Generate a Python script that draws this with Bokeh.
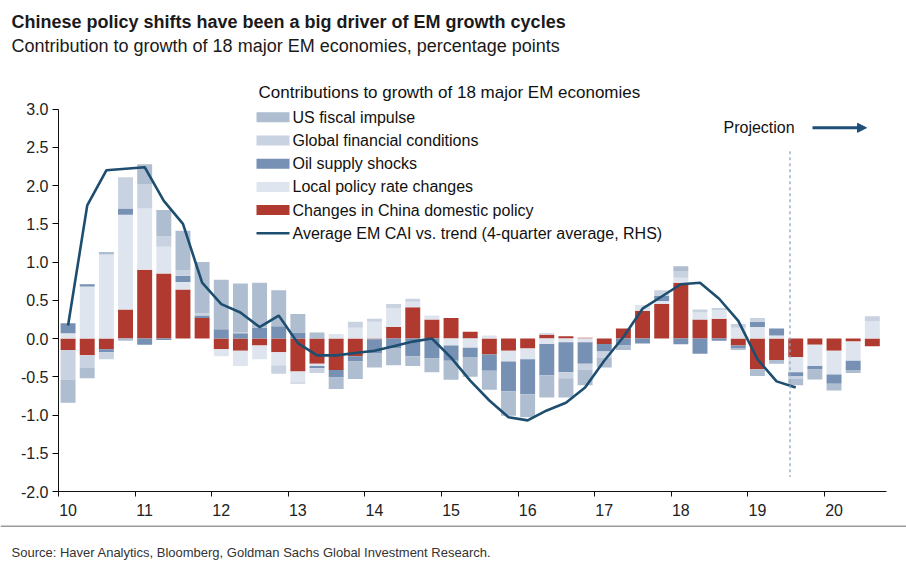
import numpy as np
from bokeh.plotting import figure
from bokeh.layouts import column
from bokeh.models import (Range1d, FixedTicker, NumeralTickFormatter, CustomJSTickFormatter,
                          Label, BoxAnnotation, Arrow, NormalHead)
from bokeh.embed import file_html
from bokeh.resources import INLINE

# ---------------- data ----------------
quarters = [f"{y}Q{q}" for y in range(2010, 2021) for q in range(1, 5)][:43]

china = [-0.15, -0.22, -0.14, 0.38, 0.90, 0.85, 0.64, 0.27, -0.14, -0.16, -0.09, -0.18,
         -0.43, -0.33, -0.41, -0.23, -0.01, 0.15, 0.41, 0.25, 0.27, 0.09, -0.21, -0.16,
         -0.13, 0.05, 0.03, 0.01, -0.07, 0.13, 0.36, 0.45, 0.73, 0.25, 0.26, -0.09,
         -0.40, -0.28, -0.24, -0.08, -0.16, -0.04, -0.10]
local = [0.07, 0.68, 1.10, 1.24, 0.80, 0.35, 0.10, 0.00, -0.09, -0.20, -0.18, -0.17,
         -0.14, -0.03, 0.06, 0.14, 0.22, 0.25, 0.07, 0.05, -0.09, -0.12, 0.04, -0.14,
         -0.14, -0.07, -0.05, -0.05, 0.00, 0.00, 0.08, 0.04, 0.065, 0.09, 0.11, 0.14,
         0.15, 0.04, -0.20, -0.28, -0.31, -0.25, 0.23]
oil = [0.13, 0.03, -0.04, 0.08, -0.08, -0.02, 0.08, 0.03, 0.12, 0.07, 0.14, 0.16,
       0.08, -0.03, -0.10, -0.07, -0.18, -0.13, -0.23, -0.26, -0.20, -0.12, -0.21, -0.39,
       -0.46, -0.41, -0.39, -0.28, -0.10, -0.09, -0.065, 0.065, -0.075, -0.20, -0.03, -0.04,
       0.07, 0.09, -0.05, -0.045, -0.12, -0.12, 0.00]
global_fin = [-0.39, -0.16, -0.09, 0.41, 0.32, 0.14, 0.07, 0.03, 0.00, 0.01, 0.00, -0.11,
              -0.02, -0.06, 0.00, 0.08, 0.04, 0.05, 0.04, 0.00, 0.00, 0.00, 0.00, 0.00,
              0.00, 0.02, -0.08, -0.08, -0.08, 0.00, 0.00, 0.075, 0.08, 0.04, 0.03, 0.05,
              0.05, 0.00, -0.04, 0.00, 0.00, 0.00, 0.06]
us_fiscal = [-0.30, -0.14, 0.03, -0.03, 0.26, 0.34, 0.52, 0.67, 0.65, 0.64, 0.59, 0.47,
             0.24, 0.08, -0.15, -0.23, -0.19, -0.22, -0.13, -0.18, -0.25, -0.26, -0.25, -0.32,
             -0.30, -0.29, -0.25, -0.20, -0.13, -0.06, 0.00, 0.00, 0.07, 0.00, 0.00, -0.02,
             -0.09, -0.05, -0.08, -0.13, -0.09, -0.04, 0.00]
cai = [0.17, 1.74, 2.20, 2.22, 2.24, 1.80, 1.50, 0.73, 0.45, 0.34, 0.15, 0.30,
       -0.06, -0.22, -0.22, -0.19, -0.16, -0.10, -0.04, 0.00, -0.25, -0.55, -0.81, -1.03,
       -1.07, -0.94, -0.84, -0.64, -0.29, 0.02, 0.39, 0.55, 0.71, 0.73, 0.52, 0.23,
       -0.27, -0.56, -0.64]

year_ticks = list(range(2010, 2021))
y_ticks = [-2.0, -1.5, -1.0, -0.5, 0.0, 0.5, 1.0, 1.5, 2.0, 2.5, 3.0]
projection_start = 2019.55

series_names = ["Changes in China domestic policy", "Local policy rate changes",
                "Oil supply shocks", "Global financial conditions", "US fiscal impulse"]
series_colors = ["#b03a2f", "#dfe5ef", "#7791b4", "#c8d2e1", "#aebdd0"]
line_color = "#1d4e70"
legend_order = ["US fiscal impulse", "Global financial conditions", "Oil supply shocks",
                "Local policy rate changes", "Changes in China domestic policy"]

FONT = "Liberation Sans"
W = 906
TOP_H = 78          # title strip height
MAIN_H = 444        # main chart (frame 78..490.7 on page, axis below)
BOT_H = 563 - TOP_H - MAIN_H


def blank(height):
    f = figure(width=W, height=height, x_range=Range1d(0, W), y_range=Range1d(height, 0),
               output_backend="svg", toolbar_location=None, x_axis_location=None,
               y_axis_location=None, min_border=0)
    f.outline_line_color = None
    f.grid.visible = False
    f.frame_align = False
    return f


# ---------------- title strip ----------------
top = blank(TOP_H)
top.add_layout(Label(x=11, y=21, text="Chinese policy shifts have been a big driver of EM growth cycles",
                     text_font=FONT, text_font_size="18px", text_font_style="bold",
                     text_color="#1a1a1a", text_baseline="middle"))
top.add_layout(Label(x=11, y=45.5, text="Contribution to growth of 18 major EM economies, percentage points",
                     text_font=FONT, text_font_size="18px", text_color="#1a1a1a",
                     text_baseline="middle"))

# ---------------- main chart ----------------
FRAME_TOP_PAGE = 78.0
FRAME_BOT_PAGE = 490.7
p = figure(width=W, height=MAIN_H, x_range=Range1d(2010, 2020.81), y_range=Range1d(-2.0, 3.40),
           output_backend="svg", toolbar_location=None,
           min_border_left=58, min_border_right=20, min_border_top=0,
           min_border_bottom=MAIN_H - int(round(FRAME_BOT_PAGE - FRAME_TOP_PAGE)))
p.outline_line_color = None
p.grid.visible = False
p.frame_align = False

x = np.array([int(q[:4]) + (int(q[5]) - 1) * 0.25 + 0.125 for q in quarters])

pos_base = np.zeros(len(x))
neg_base = np.zeros(len(x))
for vals, color in zip([china, local, oil, global_fin, us_fiscal], series_colors):
    v = np.array(vals, dtype=float)
    bottom = np.where(v >= 0, pos_base, neg_base)
    tops = bottom + v
    pos_base = np.where(v >= 0, tops, pos_base)
    neg_base = np.where(v < 0, tops, neg_base)
    p.vbar(x=x, bottom=bottom, top=tops, width=0.195, fill_color=color, line_color=None)

p.line(x[:len(cai)], cai, line_color=line_color, line_width=2.6)

p.segment(x0=[projection_start], x1=[projection_start], y0=[2.45], y1=[-1.81],
          line_color="#8fa8c6", line_width=1.3, line_dash="3 3")

p.yaxis.ticker = FixedTicker(ticks=y_ticks)
p.yaxis.formatter = NumeralTickFormatter(format="0.0")
p.yaxis.bounds = (-2.0, 3.0)
p.yaxis.major_tick_out = 6
p.yaxis.major_tick_in = 0
p.yaxis.minor_tick_line_color = None
p.yaxis.major_label_standoff = 4
p.yaxis.major_label_text_font = FONT
p.yaxis.major_label_text_font_size = "16px"
p.yaxis.major_label_text_color = "#222222"
p.yaxis.axis_line_color = "#111111"

p.xaxis.ticker = FixedTicker(ticks=[y + 0.125 for y in year_ticks], minor_ticks=year_ticks)
p.xaxis.formatter = CustomJSTickFormatter(code="return String(Math.floor(tick) - 2000)")
p.xaxis.major_tick_line_color = None
p.xaxis.major_tick_out = 0
p.xaxis.major_tick_in = 0
p.xaxis.minor_tick_out = 5
p.xaxis.minor_tick_in = 0
p.xaxis.minor_tick_line_color = "#111111"
p.xaxis.major_label_standoff = 7
p.xaxis.major_label_text_font = FONT
p.xaxis.major_label_text_font_size = "16px"
p.xaxis.major_label_text_color = "#222222"
p.xaxis.axis_line_color = "#111111"

FX = 58.0


def sx(px):
    return px - FX


def sy(py):
    return FRAME_BOT_PAGE - py


def label(text, px, py, size, font=FONT, color="#111111"):
    p.add_layout(Label(x=sx(px), y=sy(py), x_units="screen", y_units="screen", text=text,
                       text_font=font, text_font_size=size, text_color=color,
                       text_baseline="middle", text_align="left"))


def box(l, r, t, b, color):
    p.add_layout(BoxAnnotation(left=sx(l), right=sx(r), bottom=sy(b), top=sy(t),
                               left_units="screen", right_units="screen", top_units="screen",
                               bottom_units="screen", fill_color=color, fill_alpha=1,
                               line_color=None))


# legend
label("Contributions to growth of 18 major EM economies", 258, 92, "17px")
row_y = [116.5, 139.7, 162.9, 186.1, 209.3, 232.5]
color_of = dict(zip(series_names, series_colors))
for name, ry in zip(legend_order, row_y):
    box(256, 289, ry - 5, ry + 5, color_of[name])
    label(name, 292, ry, "16px")
box(256, 289, row_y[5] - 1.2, row_y[5] + 1.2, line_color)
label("Average EM CAI vs. trend (4-quarter average, RHS)", 292, row_y[5], "16px")

# projection annotation
label("Projection", 723, 127, "16px")
p.add_layout(Arrow(x_start=sx(812), y_start=sy(127), x_end=sx(866), y_end=sy(127),
                   start_units="screen", end_units="screen", line_color="#1f4e79", line_width=3,
                   end=NormalHead(size=9, fill_color="#1f4e79", line_color="#1f4e79")))

# ---------------- source strip ----------------
bot = blank(BOT_H)
bot.add_layout(BoxAnnotation(left=0, right=W, top=3.0, bottom=4.5, fill_color="#9a9a9a",
                             fill_alpha=1, line_color=None))
bot.add_layout(Label(x=11, y=30, text="Source: Haver Analytics, Bloomberg, Goldman Sachs Global Investment Research.",
                     text_font=FONT, text_font_size="13px", text_color="#333333",
                     text_baseline="middle"))

layout = column(top, p, bot, spacing=0)
open("out.html", "w").write(file_html(layout, INLINE))
